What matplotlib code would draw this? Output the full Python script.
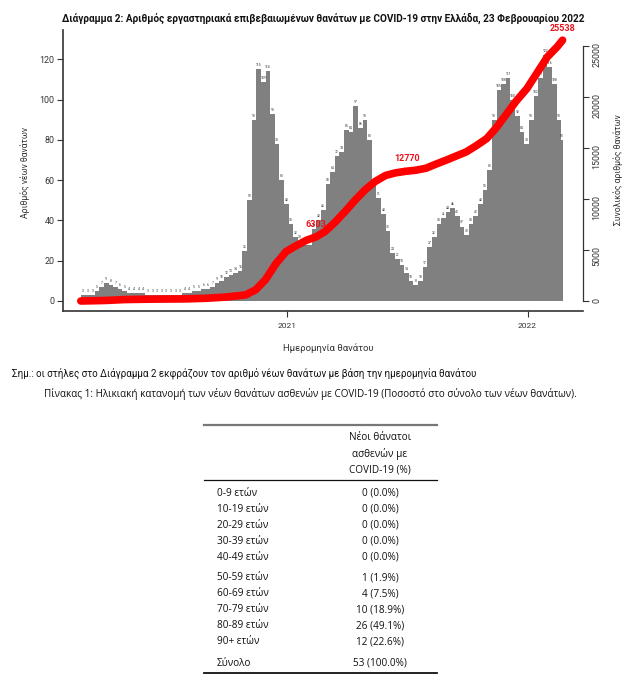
import matplotlib
matplotlib.use('Agg')
import matplotlib.pyplot as plt
import matplotlib.dates as mdates
import numpy as np
import pandas as pd
from matplotlib import font_manager

# fonts
names = {f.name for f in font_manager.fontManager.ttflist}
CHART = 'Roboto' if 'Roboto' in names else 'DejaVu Sans'
PLAIN = 'Open Sans' if 'Open Sans' in names else 'DejaVu Sans'
plt.rcParams['font.family'] = [CHART, 'DejaVu Sans']

# weekly new deaths (bar height), weeks start 2020-02-24
first_week = '2020-02-24'
last_day = '2022-02-23'
new_deaths = [3, 3, 3, 5, 7, 9, 8, 7, 6, 5,
              4, 4, 4, 4, 3, 3, 3, 3, 3, 3,
              3, 3, 4, 4, 5, 5, 6, 6, 7, 9,
              10, 12, 13, 14, 15, 25, 50, 90, 115, 109,
              114, 93, 78, 60, 48, 38, 32, 30, 28, 28,
              36, 40, 45, 58, 64, 72, 74, 85, 84, 97,
              86, 90, 80, 58, 51, 43, 35, 24, 21, 18,
              14, 10, 8, 10, 17, 27, 32, 38, 41, 44,
              46, 42, 37, 33, 38, 42, 48, 55, 65, 90,
              105, 108, 111, 100, 92, 84, 78, 90, 102, 111,
              122, 116, 108, 90, 80]

# cumulative deaths (right axis)
cum_dates = ['2020-02-24', '2020-03-31', '2020-04-30', '2020-05-31', '2020-06-30',
             '2020-07-31', '2020-08-31', '2020-09-30', '2020-10-31', '2020-11-15',
             '2020-11-30', '2020-12-15', '2020-12-31', '2021-01-15', '2021-01-31',
             '2021-02-15', '2021-02-28', '2021-03-15', '2021-03-31', '2021-04-15',
             '2021-04-30', '2021-05-15', '2021-05-31', '2021-06-15', '2021-06-30',
             '2021-07-15', '2021-07-31', '2021-08-15', '2021-08-31', '2021-09-15',
             '2021-09-30', '2021-10-15', '2021-10-31', '2021-11-15', '2021-11-30',
             '2021-12-15', '2021-12-31', '2022-01-15', '2022-01-31', '2022-02-15',
             '2022-02-23']
cum_deaths = [0, 50, 140, 175, 192, 206, 266, 380, 600, 1100,
              2100, 3600, 4840, 5400, 5950, 6300, 6800, 7700, 8800, 9900,
              10900, 11700, 12300, 12550, 12700, 12800, 13000, 13400, 13800, 14200,
              14600, 15200, 15900, 17000, 18300, 19600, 20800, 22300, 23900, 24900,
              25538]

mark_dates = ['2021-02-15', '2021-07-03', '2022-02-23']
mark_values = [6303, 12770, 25538]

# table
age_groups = ['0-9 ετών', '10-19 ετών', '20-29 ετών', '30-39 ετών', '40-49 ετών',
              '50-59 ετών', '60-69 ετών', '70-79 ετών', '80-89 ετών', '90+ ετών', 'Σύνολο']
age_counts = [0, 0, 0, 0, 0, 1, 4, 10, 26, 12, 53]
age_pct = ['0.0%', '0.0%', '0.0%', '0.0%', '0.0%', '1.9%', '7.5%', '18.9%', '49.1%', '22.6%', '100.0%']

W, H = 635, 698
fig = plt.figure(figsize=(W / 100, H / 100), dpi=100)


def fx(x):
    return x / W


def fy(y):
    return 1 - y / H


ax = fig.add_axes([fx(63), fy(311), (583 - 63) / W, (311 - 30) / H])

starts = pd.date_range(first_week, periods=len(new_deaths), freq='7D')
end = pd.Timestamp(last_day) + pd.Timedelta(days=1)
widths = [min(7, (end - s).days) for s in starts]
ax.bar(starts, new_deaths, width=widths, align='edge', color='#808080', linewidth=0, zorder=2)
for s, w, v in zip(starts, widths, new_deaths):
    ax.text(s + pd.Timedelta(days=w / 2), v + 1.0, str(v), fontsize=2.4, color='#333333',
            ha='center', va='bottom', zorder=3)

base = pd.Timestamp('2021-01-01')
ax.set_xlim(base - pd.Timedelta(days=339), base + pd.Timedelta(days=449))
ax.set_ylim(-4.97, 134.6)
ax.set_yticks([0, 20, 40, 60, 80, 100, 120])
ax.set_xticks([pd.Timestamp('2021-01-01'), pd.Timestamp('2022-01-01')])
ax.xaxis.set_major_formatter(mdates.DateFormatter('%Y'))
ax.spines['top'].set_visible(False)
ax.spines['right'].set_visible(False)
for sp in ('left', 'bottom'):
    ax.spines[sp].set_color('#333333')
    ax.spines[sp].set_linewidth(1.2)
ax.tick_params(axis='y', length=4, width=0.8, pad=2, labelsize=6.4, colors='#333333')
ax.tick_params(axis='x', length=4, width=0.8, pad=5, labelsize=6, colors='#333333')

ax2 = ax.twinx()
ax2.set_ylim(-979, 26537)
ax2.plot(pd.to_datetime(cum_dates), cum_deaths, color='#ff0000', linewidth=5.5,
         solid_capstyle='round', solid_joinstyle='round', zorder=3)
for d, v in zip(mark_dates, mark_values):
    ax2.annotate(str(v), (pd.Timestamp(d), v), xytext=(0, 5.5), textcoords='offset points',
                 ha='center', va='bottom', fontsize=6.5, fontweight='bold', color='#e8141c', zorder=1)
ax2.set_yticks([0, 5000, 10000, 15000, 20000, 25000])
for sp in ('top', 'left', 'bottom'):
    ax2.spines[sp].set_visible(False)
ax2.spines['right'].set_bounds(0, 25000)
ax2.spines['right'].set_color('#333333')
ax2.spines['right'].set_linewidth(0.9)
ax2.tick_params(axis='y', length=4, width=0.8, pad=3, labelsize=6.4, colors='#333333',
                labelrotation=90)

# texts of the chart
fig.text(fx(323), fy(18), 'Διάγραμμα 2: Αριθμός εργαστηριακά επιβεβαιωμένων θανάτων με COVID-19 στην Ελλάδα, 23 Φεβρουαρίου 2022',
         ha='center', va='center', fontsize=7.2, fontweight='bold', color='#111111')
fig.text(fx(25), fy(172), 'Αριθμός νέων θανάτων', rotation=90, ha='center', va='center',
         fontsize=6.2, color='#333333')
fig.text(fx(618), fy(170), 'Συνολικός αριθμός θανάτων', rotation=90, ha='center', va='center',
         fontsize=6.2, color='#333333')
fig.text(fx(328), fy(348), 'Ημερομηνία θανάτου', ha='center', va='center', fontsize=6.8, color='#333333')
fig.text(fx(12), fy(373), 'Σημ.: οι στήλες στο Διάγραμμα 2 εκφράζουν τον αριθμό νέων θανάτων με βάση την ημερομηνία θανάτου',
         ha='left', va='center', fontsize=7.0, color='#111111')

# table
fig.text(fx(310), fy(394), 'Πίνακας 1: Ηλικιακή κατανομή των νέων θανάτων ασθενών με COVID-19 (Ποσοστό στο σύνολο των νέων θανάτων).',
         ha='center', va='center', fontsize=7.1, color='#111111', family=[PLAIN, 'DejaVu Sans'])
fig.add_artist(plt.Line2D([fx(204), fx(437)], [fy(425), fy(425)], color='#777777', linewidth=1.6))
fig.add_artist(plt.Line2D([fx(204), fx(437)], [fy(480), fy(480)], color='#111111', linewidth=0.9))
fig.add_artist(plt.Line2D([fx(204), fx(437)], [fy(673), fy(673)], color='#111111', linewidth=1.3))
for i, line in enumerate(['Νέοι θάνατοι', 'ασθενών με', 'COVID-19 (%)']):
    fig.text(fx(380), fy(437 + 16.5 * i), line, ha='center', va='center', fontsize=7.2,
             color='#111111', family=[PLAIN, 'DejaVu Sans'])
row_y = [493, 509, 525, 541, 557, 578, 594, 610, 626, 642, 663]
for y, g, n, p in zip(row_y, age_groups, age_counts, age_pct):
    fig.text(fx(217), fy(y), g, ha='left', va='center', fontsize=7.2, color='#111111',
             family=[PLAIN, 'DejaVu Sans'])
    fig.text(fx(380), fy(y), f'{n} ({p})', ha='center', va='center', fontsize=7.2, color='#111111',
             family=[PLAIN, 'DejaVu Sans'])

fig.savefig('out.png', dpi=100)
